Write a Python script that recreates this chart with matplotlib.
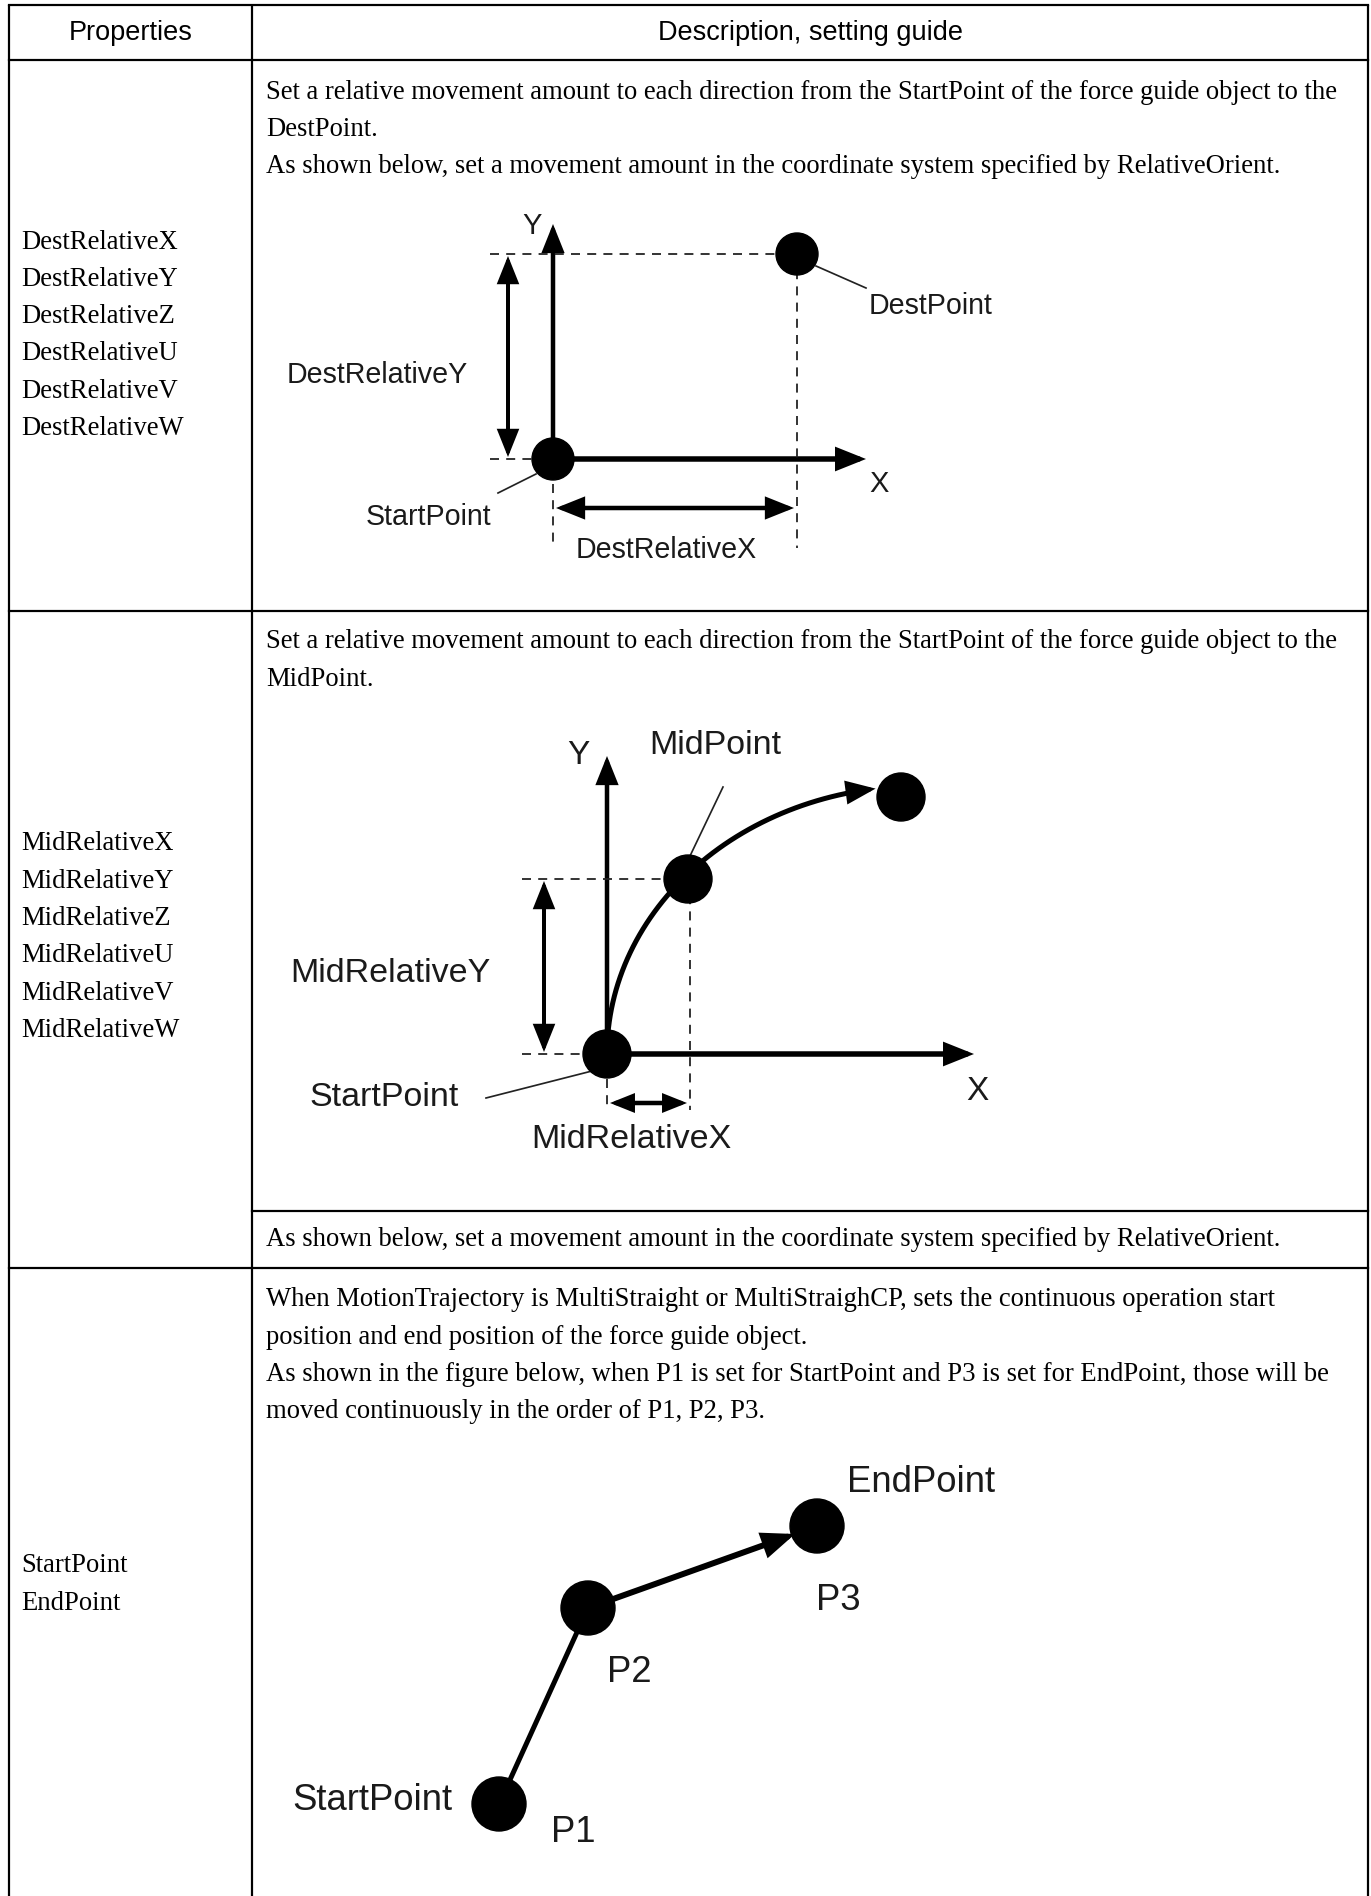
import matplotlib
matplotlib.use('Agg')
import matplotlib.pyplot as plt
import numpy as np
from matplotlib.patches import Circle, FancyArrowPatch, ArrowStyle
from matplotlib.path import Path

W, H, DPI = 1371, 1896, 100

# ---------- table content ----------
header = ['Properties', 'Description, setting guide']

props_dest = ['DestRelativeX', 'DestRelativeY', 'DestRelativeZ',
              'DestRelativeU', 'DestRelativeV', 'DestRelativeW']
props_mid = ['MidRelativeX', 'MidRelativeY', 'MidRelativeZ',
             'MidRelativeU', 'MidRelativeV', 'MidRelativeW']
props_pts = ['StartPoint', 'EndPoint']

desc_dest = ['Set a relative movement amount to each direction from the StartPoint of the force guide object to the',
             'DestPoint.',
             'As shown below, set a movement amount in the coordinate system specified by RelativeOrient.']
desc_mid = ['Set a relative movement amount to each direction from the StartPoint of the force guide object to the',
            'MidPoint.']
desc_mid_note = ['As shown below, set a movement amount in the coordinate system specified by RelativeOrient.']
desc_pts = ['When MotionTrajectory is MultiStraight or MultiStraighCP, sets the continuous operation start',
            'position and end position of the force guide object.',
            'As shown in the figure below, when P1 is set for StartPoint and P3 is set for EndPoint, those will be',
            'moved continuously in the order of P1, P2, P3.']

# ---------- layout (pixels) ----------
col_x = [9, 252, 1368]
row_y = [5, 60, 611, 1268]
mid_split_y = 1211
line_gap = 37.3

# diagram 1 : DestRelative
d1_start = (553, 459)
d1_dest = (797, 254)
d1_r = 21
d1_ytip = 224
d1_xtip = 866
d1_left = 490
d1_bottom = 548
d1_dy_x = 508
d1_dx_y = 508

# diagram 2 : MidRelative
d2_start = (607, 1054)
d2_mid = (688, 879)
d2_end = (901, 797)
d2_r = 24
d2_ytip = 756
d2_xtip = 974
d2_left = 522
d2_bottom = 1110
d2_dy_x = 544
d2_dx_y = 1103
d2_arc_c = (919, 1054)
d2_arc_ab = (312, 268)
d2_arc_deg = (180, 98)

# diagram 3 : StartPoint / EndPoint
d3_pts = [(499, 1804), (588, 1608), (817, 1526)]
d3_r = 27

fig = plt.figure(figsize=(W / DPI, H / DPI), dpi=DPI)
ax = fig.add_axes([0, 0, 1, 1])
ax.set_xlim(0, W)
ax.set_ylim(H, 0)
ax.axis('off')

PX = 72 / DPI
serif = 'Liberation Serif'
sans = 'Liberation Sans'
body_fs = 19.2
lab = '#1a1a1a'

# ---------- grid ----------
tl = 2.2 * PX
for x in col_x:
    ax.plot([x, x], [row_y[0], H], color='black', lw=tl, solid_capstyle='butt')
for y in row_y:
    ax.plot([col_x[0], col_x[-1]], [y, y], color='black', lw=tl)
ax.plot([col_x[1], col_x[2]], [mid_split_y, mid_split_y], color='black', lw=tl)

ax.text((col_x[0] + col_x[1]) / 2, 33, header[0], family=sans, fontsize=19.5,
        ha='center', va='center')
ax.text((col_x[1] + col_x[2]) / 2, 33, header[1], family=sans, fontsize=19.5,
        ha='center', va='center')


def lines(items, x, y0, fam=serif, fs=body_fs):
    for i, s in enumerate(items):
        ax.text(x, y0 + i * line_gap, s, family=fam, fontsize=fs, ha='left', va='center')


lines(props_dest, 21, 242)
lines(props_mid, 21, 844)
lines(props_pts, 21, 1566)
lines(desc_dest, 266, 92)
lines(desc_mid, 266, 642)
lines(desc_mid_note, 266, 1239)
lines(desc_pts, 266, 1300)


def arrow(p0, p1, lw=5, both=False, ms=20, path=None):
    style = ArrowStyle('<|-|>' if both else '-|>', head_length=0.75, head_width=0.3)
    kw = dict(arrowstyle=style, mutation_scale=ms, lw=lw * PX, color='black',
              shrinkA=0, shrinkB=0, joinstyle='miter')
    if path is not None:
        a = FancyArrowPatch(path=path, **kw)
    else:
        a = FancyArrowPatch(p0, p1, **kw)
    ax.add_patch(a)


def dashed(xs, ys):
    ax.plot(xs, ys, color='#222222', lw=1.8 * PX, linestyle=(0, (5, 4)))


def leader(p0, p1):
    ax.plot([p0[0], p1[0]], [p0[1], p1[1]], color='#222222', lw=1.7 * PX)


def dot(p, r):
    ax.add_patch(Circle(p, r, color='black', zorder=5))


def label(x, y, s, fs):
    ax.text(x, y, s, family=sans, fontsize=fs, color=lab, ha='center', va='center')


# ---------- diagram 1 ----------
sx, sy = d1_start
ex, ey = d1_dest
dashed([d1_left, ex], [ey, ey])
dashed([d1_left, sx - 20], [sy, sy])
dashed([ex, ex], [ey, d1_bottom])
dashed([sx, sx], [sy + 25, d1_bottom])
arrow((sx, sy), (sx, d1_ytip), lw=4.5)
arrow((sx, sy), (d1_xtip, sy), lw=5.5)
arrow((d1_dy_x, ey + 2), (d1_dy_x, sy - 2), lw=4, both=True)
arrow((sx + 3, d1_dx_y), (ex - 3, d1_dx_y), lw=4.5, both=True)
dot(d1_start, d1_r)
dot(d1_dest, d1_r)
leader((816, 266), (866, 288))
leader((536, 474), (498, 493))
label(532, 226, 'Y', 21)
label(879, 484, 'X', 21)
label(931, 306, 'DestPoint', 20.6)
label(377, 375, 'DestRelativeY', 20.6)
label(428, 517, 'StartPoint', 20.6)
label(666, 550, 'DestRelativeX', 20.6)

# ---------- diagram 2 ----------
sx, sy = d2_start
mx, my = d2_mid
dashed([d2_left, mx], [my, my])
dashed([d2_left, sx - 20], [sy, sy])
dashed([mx + 2, mx + 2], [my, d2_bottom])
dashed([sx, sx], [sy + 25, d2_bottom])
arrow((sx, sy), (sx, d2_ytip), lw=4.5)
arrow((sx, sy), (d2_xtip, sy), lw=5.5)
t = np.radians(np.linspace(d2_arc_deg[0], d2_arc_deg[1], 60))
arc = np.column_stack([d2_arc_c[0] + d2_arc_ab[0] * np.cos(t),
                       d2_arc_c[1] - d2_arc_ab[1] * np.sin(t)])
arrow(None, None, lw=5, path=Path(arc))
arrow((d2_dy_x, my + 2), (d2_dy_x, sy - 2), lw=4, both=True)
arrow((sx + 3, d2_dx_y), (mx - 1, d2_dx_y), lw=4.5, both=True, ms=16)
dot(d2_start, d2_r)
dot(d2_mid, d2_r)
dot(d2_end, d2_r)
leader((723, 787), (690, 856))
leader((486, 1098), (592, 1071))
label(578, 756, 'Y', 24)
label(977, 1092, 'X', 24)
label(715, 746, 'MidPoint', 24.5)
label(390, 973, 'MidRelativeY', 24.5)
label(384, 1098, 'StartPoint', 24.5)
label(631, 1139, 'MidRelativeX', 24.5)

# ---------- diagram 3 ----------
p1, p2, p3 = d3_pts
ax.plot([p1[0], p2[0]], [p1[1], p2[1]], color='black', lw=5 * PX)
arrow(p2, (p3[0] - 22, p3[1] + 8), lw=6, ms=22)
for p in d3_pts:
    dot(p, d3_r)
label(921, 1482, 'EndPoint', 26.3)
label(838, 1600, 'P3', 26.3)
label(629, 1673, 'P2', 26.3)
label(372, 1801, 'StartPoint', 26.3)
label(573, 1832, 'P1', 26.3)

fig.savefig('out.png', dpi=DPI, facecolor='white')
